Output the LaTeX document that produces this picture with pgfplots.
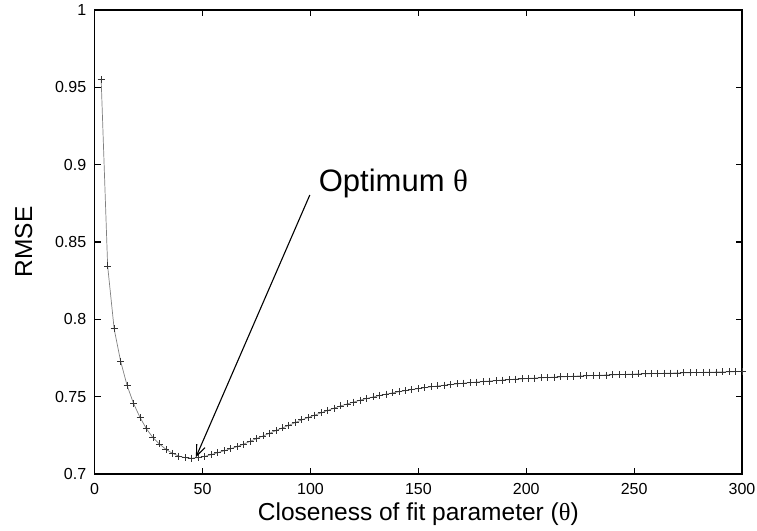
\documentclass[border=0pt]{standalone}
\usepackage{fontspec}
\setmainfont{Liberation Sans}
\newfontfamily\greekfont{Liberation Serif}
\usepackage{pgfplots}
\pgfplotsset{compat=1.18}
\usepackage{pgfplotstable}
\usetikzlibrary{arrows.meta}

% RMSE against the closeness-of-fit parameter theta
\pgfplotstableread{
theta rmse
3   0.9550
6   0.8345
9   0.7940
12  0.7730
15  0.7573
18  0.7456
21  0.7366
24  0.7292
27  0.7235
30  0.7194
33  0.7160
36  0.7134
39  0.7116
42  0.7105
45  0.7102
48  0.7106
51  0.7114
54  0.7125
57  0.7138
60  0.7150
63  0.7163
66  0.7177
69  0.7193
72  0.7211
75  0.7229
78  0.7246
81  0.7263
84  0.7281
87  0.7298
90  0.7315
93  0.7333
96  0.7350
99  0.7365
102 0.7381
105 0.7396
108 0.7411
111 0.7426
114 0.7440
117 0.7453
120 0.7465
123 0.7477
126 0.7488
129 0.7498
132 0.7507
135 0.7516
138 0.7524
141 0.7532
144 0.7539
147 0.7546
150 0.7552
153 0.7558
156 0.7564
159 0.7569
162 0.7574
165 0.7578
168 0.7583
171 0.7587
174 0.7591
177 0.7594
180 0.7598
183 0.7601
186 0.7604
189 0.7607
192 0.7610
195 0.7613
198 0.7615
201 0.7618
204 0.7620
207 0.7622
210 0.7624
213 0.7626
216 0.7628
219 0.7630
222 0.7632
225 0.7634
228 0.7635
231 0.7637
234 0.7638
237 0.7640
240 0.7641
243 0.7643
246 0.7644
249 0.7645
252 0.7647
255 0.7648
258 0.7649
261 0.7650
264 0.7651
267 0.7652
270 0.7653
273 0.7654
276 0.7655
279 0.7656
282 0.7657
285 0.7658
288 0.7659
291 0.7660
294 0.7661
297 0.7662
300 0.7663
}\rmsedata

\begin{document}
\begin{tikzpicture}
\begin{axis}[
  scale only axis,
  width=647.3pt, height=464pt,
  xmin=0, xmax=300,
  ymin=0.7, ymax=1,
  xtick={0,50,...,300},
  ytick={0.7,0.75,...,1.001},
  tick align=inside,
  major tick length=6.5pt,
  axis line style={line width=1.1pt, black},
  every tick/.style={black, line width=1.1pt},
  /pgf/number format/assume math mode=true,
  tick label style={font=\fontsize{16}{19}\selectfont},
  xticklabel style={yshift=-5.5pt},
  yticklabel style={xshift=-5pt},
  every axis x label/.style={at={(rel axis cs:0.5,0)}, anchor=base, yshift=-46pt},
  every axis y label/.style={at={(rel axis cs:0,0.5)}, xshift=-71pt, rotate=90, anchor=center},
  label style={font=\fontsize{24.5}{28}\selectfont},
  xlabel={Closeness of fit parameter ({\greekfont θ})},
  ylabel={RMSE},
  clip mode=individual,
]
\addplot[gray, line width=0.7pt, mark=+, mark size=3.5pt,
  mark options={black!80, line width=0.8pt}] table[x=theta, y=rmse] {\rmsedata};

\draw[line width=1.1pt, -{Straight Barb[length=11pt, width=9pt]}]
  (axis cs:99.7,0.8804) -- (axis cs:46.9,0.7108);
\node[anchor=base west, inner sep=0pt, font=\fontsize{31}{36}\selectfont]
  at (axis cs:103.8,0.8826) {Optimum {\greekfont θ}};

\coordinate (lowleft) at (rel axis cs:0,0);
\coordinate (upright) at (rel axis cs:1,1);
\end{axis}
\pgfresetboundingbox
\useasboundingbox ([shift={(-94.7pt,-56pt)}]lowleft) rectangle ([shift={(15pt,10pt)}]upright);
\end{tikzpicture}
\end{document}
